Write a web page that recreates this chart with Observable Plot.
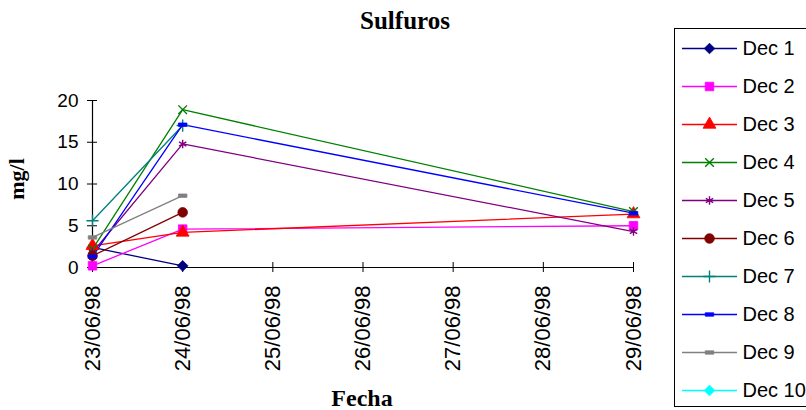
<!DOCTYPE html>
<html><head><meta charset="utf-8">
<script src="https://cdn.jsdelivr.net/npm/d3@7"></script>
<script src="https://cdn.jsdelivr.net/npm/@observablehq/plot@0.6"></script>
<style>
html,body{margin:0;padding:0;background:#fff;overflow:hidden;}
#wrap{position:relative;width:806px;height:410px;overflow:hidden;background:#fff;}
#main{position:absolute;left:0;top:0;}
#legbox{position:absolute;left:674px;top:28px;width:140px;height:379px;border:1px solid #000;box-sizing:border-box;background:#fff;}
.lbl{position:absolute;font-family:"Liberation Serif","Times New Roman",serif;font-weight:bold;color:#000;white-space:nowrap;line-height:1;}
</style></head><body>
<div id="wrap">
  <div id="main"></div>
  <div class="lbl" id="title" style="left:0;width:810px;text-align:center;top:8px;font-size:25px;">Sulfuros</div>
  <div class="lbl" id="ylab" style="left:17px;top:179px;font-size:22px;transform:translate(-50%,-50%) rotate(-90deg);">mg/l</div>
  <div class="lbl" id="xlab" style="left:362px;top:386px;font-size:24px;transform:translateX(-50%);">Fecha</div>
  <div id="legbox"></div>
</div>
<script>
// ---- data ----
const dates = ["1998-06-23", "1998-06-24", "1998-06-29"];
const tickDates = ["1998-06-23","1998-06-24","1998-06-25","1998-06-26","1998-06-27","1998-06-28","1998-06-29"];
const series = ["Dec 1","Dec 2","Dec 3","Dec 4","Dec 5","Dec 6","Dec 7","Dec 8","Dec 9","Dec 10"];
const dec1  = [2.4, 0.2, null];
const dec2  = [0.2, 4.6, 5.0];
const dec3  = [2.6, 4.2, 6.4];
const dec4  = [2.2, 18.9, 6.7];
const dec5  = [1.8, 14.8, 4.3];
const dec6  = [1.4, 6.6, null];
const dec7  = [5.6, 17.0, null];
const dec8  = [1.3, 17.1, 6.5];
const dec9  = [3.6, 8.6, null];
const dec10 = [null, null, null];
const yTicks = [0, 5, 10, 15, 20];

// ---- styles ----
const colors = ["#000080","#FF00FF","#FF0000","#008000","#800080","#800000","#008080","#0000FF","#808080","#00FFFF"];
const dash = {draw(ctx, size){ const w = Math.sqrt(size)*0.5, h = Math.sqrt(size)*0.2; ctx.moveTo(-w,-h); ctx.lineTo(w,-h); ctx.lineTo(w,h); ctx.lineTo(-w,h); ctx.closePath(); }};
const symbols = ["diamond2","square","triangle","times","asterisk","circle","plus",dash,dash,"diamond2"];

const values = [dec1,dec2,dec3,dec4,dec5,dec6,dec7,dec8,dec9,dec10];
const parse = s => new Date(s + "T00:00:00Z");
const rowsFor = i => dates.map((d, j) => ({date: parse(d), value: values[i][j], series: series[i]})).filter(r => r.value != null);

const marks = [
  Plot.ruleY([0], {stroke: "#000", strokeWidth: 1.2}),
  Plot.ruleX([parse(dates[0])], {stroke: "#000", strokeWidth: 1.2}),
  Plot.axisY({ticks: yTicks, tickSize: 10, dx: 5, tickPadding: 9, fontSize: 19, fontFamily: "Liberation Sans, Arial, sans-serif", tickFormat: d => String(d), stroke: "#000", fill: "#000"}),
  Plot.axisX({ticks: tickDates.map(parse), tickSize: 10, dy: -5, tickPadding: 13, tickRotate: -90, fontSize: 22, fontFamily: "Liberation Sans, Arial, sans-serif", tickFormat: d3.utcFormat("%d/%m/%y"), stroke: "#000", fill: "#000"})
];
series.forEach((s, i) => {
  const rows = rowsFor(i);
  marks.push(Plot.line(rows, {x: "date", y: "value", stroke: colors[i], strokeWidth: 1.3}));
});
series.forEach((s, i) => {
  const rows = rowsFor(i);
  const isOpen = ["times","asterisk","plus"].includes(symbols[i]);
  marks.push(Plot.dot(rows, {x: "date", y: "value", symbol: symbols[i], r: isOpen ? 4 : 4.8, fill: isOpen ? "none" : colors[i], stroke: colors[i], strokeWidth: isOpen ? 1.4 : 0.8}));
});

const chart = Plot.plot({
  width: 806, height: 410,
  marginLeft: 92, marginRight: 173, marginTop: 100, marginBottom: 143,
  style: {background: "transparent", overflow: "visible"},
  x: {type: "utc", domain: [parse(tickDates[0]), parse(tickDates[tickDates.length-1])], label: null},
  y: {domain: [0, 20], label: null},
  marks
});
document.getElementById("main").appendChild(chart);

// ---- legend ----
const legMarks = [
  Plot.ruleY(series, {y: d => d, stroke: (d, i) => colors[i], strokeWidth: 1.4, insetLeft: 7, insetRight: 76})
];
series.forEach((s, i) => {
  const isOpen = ["times","asterisk","plus"].includes(symbols[i]);
  legMarks.push(Plot.dot([s], {y: d => d, frameAnchor: "left", dx: 34, symbol: symbols[i], r: isOpen ? 4 : 4.8, fill: isOpen ? "none" : colors[i], stroke: colors[i], strokeWidth: isOpen ? 1.4 : 0.8}));
});
legMarks.push(Plot.text(series, {y: d => d, text: d => d, frameAnchor: "left", dx: 67, textAnchor: "start", fontSize: 20, fontFamily: "Liberation Sans, Arial, sans-serif", fill: "#000"}));
const legend = Plot.plot({
  width: 138, height: 377,
  marginLeft: 0, marginRight: 0, marginTop: 19, marginBottom: 16,
  style: {background: "transparent", overflow: "visible"},
  x: {axis: null},
  y: {type: "point", domain: series, axis: null, padding: 0},
  marks: legMarks
});
document.getElementById("legbox").appendChild(legend);
</script>
</body></html>
